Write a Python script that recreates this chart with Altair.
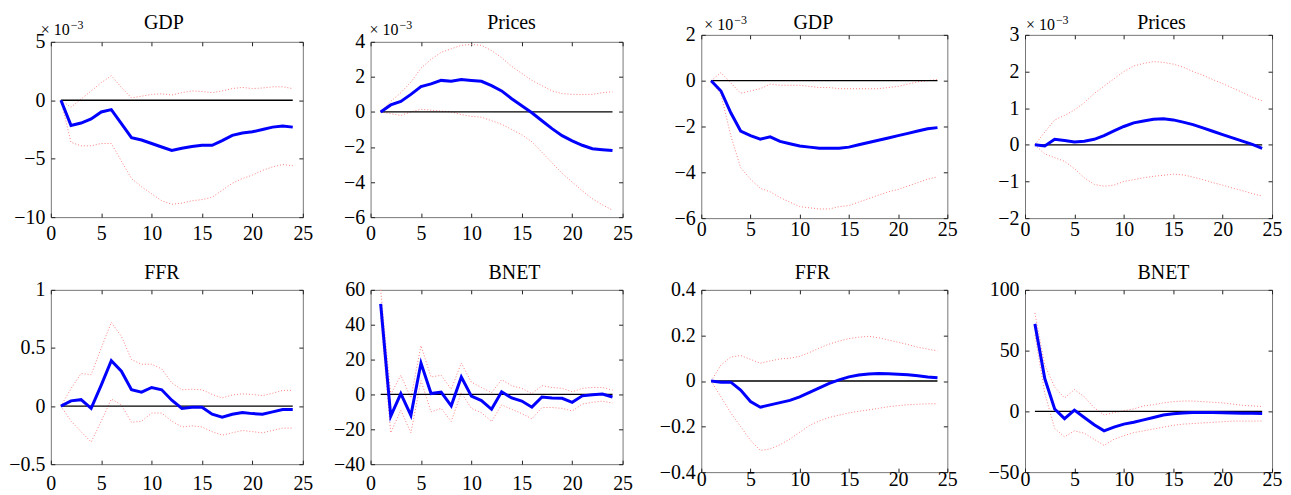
import altair as alt
import pandas as pd

steps = list(range(1, 25))

# Panel 1: GDP (x 10^-3)
gdp1_irf = [0, -2.15, -1.95, -1.6, -1.0, -0.8, -2.0, -3.2, -3.4, -3.7, -4.0, -4.3, -4.1, -3.95, -3.85, -3.85, -3.45, -3.0, -2.8, -2.7, -2.5, -2.3, -2.2, -2.3]
gdp1_hi = [0, -0.6, 0.1, 0.8, 1.5, 2.1, 1.1, 0.2, 0.35, 0.5, 0.55, 0.45, 0.65, 0.8, 0.75, 0.65, 0.8, 1.0, 1.1, 1.0, 1.05, 1.15, 1.15, 1.0]
gdp1_lo = [0, -3.6, -3.9, -3.9, -3.7, -3.7, -5.2, -6.7, -7.4, -8.0, -8.6, -8.9, -8.8, -8.6, -8.5, -8.3, -7.7, -7.1, -6.7, -6.4, -6.0, -5.7, -5.5, -5.6]

# Panel 2: Prices (x 10^-3)
pr1_irf = [0, 0.4, 0.6, 1.0, 1.45, 1.6, 1.8, 1.75, 1.85, 1.8, 1.75, 1.5, 1.2, 0.75, 0.35, -0.05, -0.5, -0.95, -1.35, -1.65, -1.9, -2.1, -2.15, -2.2]
pr1_hi = [0, 0.6, 1.1, 1.7, 2.5, 3.0, 3.4, 3.6, 3.8, 3.85, 3.8, 3.5, 3.1, 2.6, 2.2, 1.8, 1.5, 1.2, 1.05, 1.0, 1.0, 1.0, 1.1, 1.15]
pr1_lo = [0, -0.1, -0.2, 0.0, 0.15, 0.1, 0.05, 0.0, -0.15, -0.25, -0.3, -0.5, -0.7, -1.0, -1.3, -1.7, -2.3, -2.9, -3.5, -4.0, -4.5, -4.95, -5.3, -5.6]

# Panel 3: GDP (x 10^-3)
gdp2_irf = [0, -0.45, -1.4, -2.2, -2.4, -2.55, -2.45, -2.65, -2.75, -2.85, -2.9, -2.95, -2.95, -2.95, -2.9, -2.8, -2.7, -2.6, -2.5, -2.4, -2.3, -2.2, -2.1, -2.05]
gdp2_hi = [0, 0.35, -0.1, -0.55, -0.45, -0.35, -0.15, -0.2, -0.2, -0.2, -0.25, -0.3, -0.3, -0.35, -0.35, -0.35, -0.35, -0.35, -0.3, -0.25, -0.15, -0.05, 0.0, 0.05]
gdp2_lo = [0, -0.6, -2.4, -3.8, -4.3, -4.7, -4.85, -5.1, -5.3, -5.5, -5.55, -5.6, -5.6, -5.5, -5.45, -5.3, -5.15, -5.0, -4.85, -4.75, -4.6, -4.45, -4.3, -4.2]

# Panel 4: Prices (x 10^-3)
pr2_irf = [0, -0.03, 0.15, 0.12, 0.08, 0.1, 0.15, 0.25, 0.38, 0.5, 0.6, 0.65, 0.7, 0.71, 0.68, 0.62, 0.55, 0.46, 0.37, 0.28, 0.19, 0.1, 0.01, -0.1]
pr2_hi = [0, 0.35, 0.68, 0.8, 0.95, 1.15, 1.4, 1.6, 1.8, 2.0, 2.15, 2.22, 2.27, 2.25, 2.2, 2.12, 2.0, 1.9, 1.78, 1.67, 1.55, 1.43, 1.3, 1.2]
pr2_lo = [0, -0.25, -0.35, -0.45, -0.65, -0.9, -1.08, -1.13, -1.1, -1.0, -0.95, -0.9, -0.86, -0.83, -0.8, -0.82, -0.88, -0.95, -1.03, -1.1, -1.18, -1.25, -1.33, -1.4]

# Panel 5: FFR
ffr1_irf = [0, 0.045, 0.055, -0.02, 0.18, 0.39, 0.30, 0.14, 0.12, 0.16, 0.14, 0.05, -0.02, -0.01, -0.01, -0.07, -0.095, -0.07, -0.055, -0.065, -0.07, -0.05, -0.03, -0.03]
ffr1_hi = [0, 0.15, 0.28, 0.27, 0.5, 0.72, 0.6, 0.4, 0.36, 0.36, 0.32, 0.2, 0.14, 0.145, 0.14, 0.1, 0.07, 0.095, 0.105, 0.1, 0.09, 0.11, 0.135, 0.135]
ffr1_lo = [0, -0.13, -0.22, -0.31, -0.13, 0.06, 0.01, -0.14, -0.13, -0.06, -0.06, -0.13, -0.18, -0.17, -0.18, -0.22, -0.25, -0.23, -0.21, -0.22, -0.23, -0.21, -0.19, -0.19]

# Panel 6: BNET
bnet1_irf = [52, -12.5, 0.5, -12, 18, 0.5, 1.3, -6.5, 10, -1, -3.5, -8.5, 1.5, -2, -3.8, -7.3, -1.5, -2, -2.2, -4.5, -0.8, -0.2, 0.2, -1.5]
bnet1_hi = [60, 0, 11, -2, 28, 10, 11, 3, 18, 7, 4, 1, 8.5, 5, 3.5, 0.5, 5, 4, 3.5, 1.5, 3.5, 4, 4, 2.5]
bnet1_lo = [44, -22, -9, -22, 8, -10, -8, -15.5, 1, -8, -10.5, -15.5, -6, -8.5, -11, -14, -7.5, -7.5, -8, -9.5, -5.5, -4.5, -3.8, -5]

# Panel 7: FFR
ffr2_irf = [0, -0.005, -0.005, -0.04, -0.09, -0.115, -0.105, -0.095, -0.085, -0.07, -0.05, -0.03, -0.01, 0.005, 0.018, 0.026, 0.031, 0.033, 0.032, 0.03, 0.027, 0.023, 0.018, 0.014]
ffr2_hi = [0, 0.07, 0.105, 0.112, 0.095, 0.078, 0.088, 0.097, 0.1, 0.108, 0.125, 0.145, 0.162, 0.175, 0.186, 0.192, 0.196, 0.19, 0.18, 0.17, 0.16, 0.148, 0.14, 0.132]
ffr2_lo = [0, -0.07, -0.14, -0.2, -0.26, -0.305, -0.298, -0.28, -0.255, -0.225, -0.195, -0.175, -0.16, -0.15, -0.14, -0.133, -0.127, -0.12, -0.113, -0.108, -0.104, -0.102, -0.1, -0.1]

# Panel 8: BNET
bnet2_irf = [72, 27, 2, -6, 1, -5, -11, -16, -13, -10.5, -9, -7, -5, -3, -2, -1.3, -1, -1, -1, -1.2, -1.3, -1.5, -1.6, -1.7]
bnet2_hi = [81, 38, 20, 11, 18, 12, 3, -3, -1, 0.5, 2, 4.5, 5.5, 7, 8, 8.5, 8.5, 8, 7.5, 7, 6, 5, 4.5, 4]
bnet2_lo = [63, 15, -14, -21, -16, -18, -23, -28, -23, -20, -17.5, -16, -14.5, -13, -11.5, -10.5, -10, -9.5, -9, -8.5, -8, -8, -8, -8]

x_ticks = [0, 5, 10, 15, 20, 25]

FONT = "Liberation Serif"
BLUE = "#0000ff"
RED = "#ff7f7f"


def panel(title, irf, lo, hi, ydom, yticks, sci, w, h, tdx, ty, sdx, sdy, xpad):
    df = pd.DataFrame({"step": steps, "irf": irf, "lo": lo, "hi": hi, "zero": [0] * len(steps)})
    xs = alt.Scale(domain=[0, 25], nice=False, zero=False)
    ys = alt.Scale(domain=ydom, nice=False, zero=False)
    base = alt.Chart(df)
    ax_b = alt.Axis(values=x_ticks, orient="bottom", title=None, format="~f", labelPadding=xpad)
    ax_t = alt.Axis(values=x_ticks, orient="top", title=None, labels=False, minExtent=0, maxExtent=0)
    ay_l = alt.Axis(values=yticks, orient="left", title=None, format="~f")
    ay_r = alt.Axis(values=yticks, orient="right", title=None, labels=False, minExtent=0, maxExtent=0)

    zero = base.mark_line(color="black", strokeWidth=1.3).encode(
        x=alt.X("step:Q", scale=xs, axis=ax_b),
        y=alt.Y("zero:Q", scale=ys, axis=ay_l),
    )
    band_hi = base.mark_line(color=RED, strokeWidth=1, strokeDash=[1, 2]).encode(
        x=alt.X("step:Q", scale=xs, axis=ax_t),
        y=alt.Y("hi:Q", scale=ys, axis=ay_r),
    )
    band_lo = base.mark_line(color=RED, strokeWidth=1, strokeDash=[1, 2]).encode(
        x=alt.X("step:Q", scale=xs, axis=None),
        y=alt.Y("lo:Q", scale=ys, axis=None),
    )
    mid = base.mark_line(color=BLUE, strokeWidth=3).encode(
        x=alt.X("step:Q", scale=xs, axis=None),
        y=alt.Y("irf:Q", scale=ys, axis=None),
    )
    lab = pd.DataFrame({"title": [title], "t": ["× 10"], "e": ["−3"]})
    ttl = alt.Chart(lab).mark_text(align="center", baseline="alphabetic", font=FONT, fontSize=20,
                                   color="black").encode(
        x=alt.value(w / 2 + tdx), y=alt.value(ty), text="title:N")
    layers = [band_hi, band_lo, zero, mid, ttl]
    if sci:
        t1 = alt.Chart(lab).mark_text(align="left", baseline="alphabetic", font=FONT, fontSize=16,
                                      color="black").encode(
            x=alt.value(sdx), y=alt.value(sdy), text="t:N")
        t2 = alt.Chart(lab).mark_text(align="left", baseline="alphabetic", font=FONT, fontSize=12,
                                      color="black").encode(
            x=alt.value(sdx + 30), y=alt.value(sdy - 6), text="e:N")
        layers += [t1, t2]
    return alt.layer(*layers).resolve_axis(x="independent", y="independent").properties(
        width=w, height=h,
    )


def spacer():
    # invisible 1x1 view so that each column is aligned by the top of its title
    return alt.Chart(pd.DataFrame({"s": [0]})).mark_point(size=1, opacity=0).encode(
        x=alt.value(0), y=alt.value(1)
    ).properties(width=1, height=1, view=alt.ViewBackground(stroke="transparent"))


p1 = panel("GDP", gdp1_irf, gdp1_lo, gdp1_hi, [-10, 5], [-10, -5, 0, 5], True, 253, 176, -13, -13, -10, -7, 6)
p2 = panel("Prices", pr1_irf, pr1_lo, pr1_hi, [-6, 4], [-6, -4, -2, 0, 2, 4], True, 253, 176, 15, -13, -1, -7, 6)
p3 = panel("GDP", gdp2_irf, gdp2_lo, gdp2_hi, [-6, 2], [-6, -4, -2, 0, 2], True, 247, 184, -11, -6, 3, -5, 1)
p4 = panel("Prices", pr2_irf, pr2_lo, pr2_hi, [-2, 3], [-2, -1, 0, 1, 2, 3], True, 248, 184, 13, -6, 1, -5, 1)
p5 = panel("FFR", ffr1_irf, ffr1_lo, ffr1_hi, [-0.5, 1], [-0.5, 0, 0.5, 1], False, 253, 175, -15, -11, 0, 0, 9)
p6 = panel("BNET", bnet1_irf, bnet1_lo, bnet1_hi, [-40, 60], [-40, -20, 0, 20, 40, 60], False, 253, 175, 18, -11, 0, 0, 9)
p7 = panel("FFR", ffr2_irf, ffr2_lo, ffr2_hi, [-0.4, 0.4], [-0.4, -0.2, 0, 0.2, 0.4], False, 247, 183, -12, -11, 0, 0, -3)
p8 = panel("BNET", bnet2_irf, bnet2_lo, bnet2_hi, [-50, 100], [-50, 0, 50, 100], False, 248, 183, 15, -11, 0, 0, -3)

col1 = alt.vconcat(alt.vconcat(spacer(), p1, spacing=0), p5, spacing=18)
col2 = alt.vconcat(alt.vconcat(spacer(), p2, spacing=0), p6, spacing=18)
col3 = alt.vconcat(alt.vconcat(spacer(), p3, spacing=0), p7, spacing=22)
col4 = alt.vconcat(alt.vconcat(spacer(), p4, spacing=0), p8, spacing=22)
left = alt.hconcat(col1, col2, spacing=19)
right = alt.hconcat(col3, col4, spacing=29)

chart = alt.hconcat(left, right, spacing=25).properties(
    padding={"left": 0, "top": 0, "right": 0, "bottom": 0},
    background="white",
).configure_view(
    stroke="#777777", strokeWidth=1,
).configure_axis(
    grid=False, domain=False, offset=-4, tickSize=4, tickColor="#222222", tickWidth=1,
    labelFont=FONT, labelFontSize=20, labelColor="black", labelPadding=6,
    labelFlush=False, labelOverlap=False,
)

chart.save("out.html", embed_options={"renderer": "svg", "actions": False})
